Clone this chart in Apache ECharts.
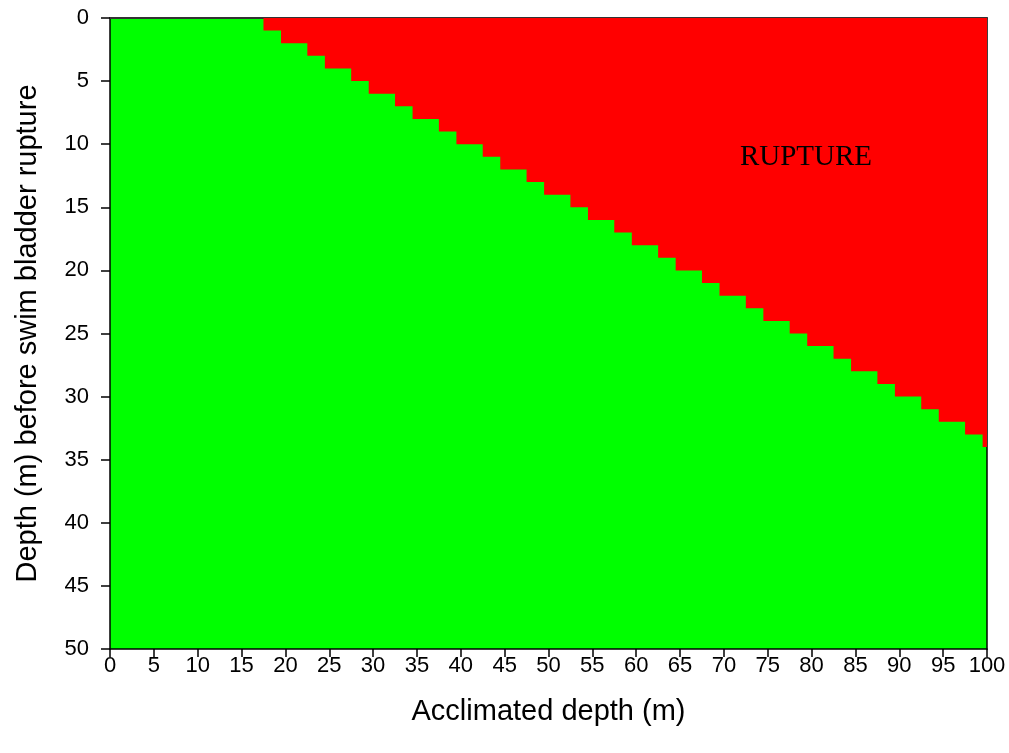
<!DOCTYPE html>
<html>
<head>
<meta charset="utf-8">
<script src="https://cdn.jsdelivr.net/npm/echarts@6/dist/echarts.min.js"></script>
<style>
html,body{margin:0;padding:0;background:#fff;}
#chart{width:1009px;height:753px;}
</style>
</head>
<body>
<div id="chart"></div>
<script>
// Acclimated depth (m) at which each 1 m depth row switches to rupture
var ruptureStartX = [17.5, 19.5, 22.5, 24.5, 27.5, 29.5, 32.5, 34.5, 37.5, 39.5,
                     42.5, 44.5, 47.5, 49.5, 52.5, 54.5, 57.5, 59.5, 62.5, 64.5,
                     67.5, 69.5, 72.5, 74.5, 77.5, 79.5, 82.5, 84.5, 87.5, 89.5,
                     92.5, 94.5, 97.5, 99.5];
// Depth (m) of the lower edge of rupture region beyond each switch point
var ruptureDepth = [1, 2, 3, 4, 5, 6, 7, 8, 9, 10,
                    11, 12, 13, 14, 15, 16, 17, 18, 19, 20,
                    21, 22, 23, 24, 25, 26, 27, 28, 29, 30,
                    31, 32, 33, 34];
var xTicks = [0,5,10,15,20,25,30,35,40,45,50,55,60,65,70,75,80,85,90,95,100];
var yTicks = [0,5,10,15,20,25,30,35,40,45,50];

var boundary = [[0, 0]];
for (var i = 0; i < ruptureStartX.length; i++) {
  boundary.push([ruptureStartX[i], ruptureDepth[i]]);
}
boundary.push([100, ruptureDepth[ruptureDepth.length - 1]]);

var chart = echarts.init(document.getElementById('chart'), null, {renderer: 'canvas'});
var font = 'Liberation Sans, Arial, sans-serif';
var option = {
  animation: false,
  backgroundColor: '#ffffff',
  grid: {
    left: 110, right: 22, top: 18, bottom: 104,
    show: true, backgroundColor: '#00ff00', borderWidth: 0
  },
  xAxis: [{
    type: 'value', min: 0, max: 100, interval: 5,
    name: 'Acclimated depth (m)', nameLocation: 'middle', nameGap: 48,
    nameTextStyle: {fontFamily: font, fontSize: 29, color: '#000'},
    axisLine: {show: true, onZero: false, lineStyle: {color: '#000', width: 1.5}},
    axisTick: {show: true, inside: false, length: 8, lineStyle: {color: '#000', width: 1.5}},
    axisLabel: {fontFamily: font, fontSize: 22, color: '#000', margin: 6,
      formatter: function (v) { return xTicks.indexOf(v) >= 0 ? String(v) : ''; }},
    splitLine: {show: false}
  }, {
    type: 'value', min: 0, max: 100, position: 'top',
    axisLine: {show: true, onZero: false, lineStyle: {color: '#333', width: 2}},
    axisTick: {show: false}, axisLabel: {show: false}, splitLine: {show: false}
  }],
  yAxis: [{
    type: 'value', min: 0, max: 50, interval: 5, inverse: true,
    name: 'Depth (m) before swim bladder rupture', nameLocation: 'middle', nameGap: 68,
    nameTextStyle: {fontFamily: font, fontSize: 29, color: '#000'},
    axisLine: {show: true, onZero: false, lineStyle: {color: '#000', width: 1.5}},
    axisTick: {show: true, inside: false, length: 9, lineStyle: {color: '#000', width: 1.5}},
    axisLabel: {fontFamily: font, fontSize: 22, color: '#000', margin: 21,
      formatter: function (v) { return yTicks.indexOf(v) >= 0 ? String(v) : ''; }},
    splitLine: {show: false}
  }, {
    type: 'value', min: 0, max: 50, inverse: true, position: 'right',
    axisLine: {show: true, onZero: false, lineStyle: {color: '#000', width: 1.5}},
    axisTick: {show: false}, axisLabel: {show: false}, splitLine: {show: false}
  }],
  series: [{
    type: 'line',
    data: boundary,
    step: 'end',
    showSymbol: false,
    symbol: 'none',
    lineStyle: {width: 0},
    areaStyle: {color: '#ff0000', opacity: 1, origin: 'start'},
    z: 1
  }],
  graphic: [{
    type: 'text',
    x: 806, y: 157,
    style: {text: 'RUPTURE', font: '29px "Liberation Serif", "Times New Roman", serif',
      fill: '#000', textAlign: 'center', textVerticalAlign: 'middle'},
    z: 100
  }]
};
chart.setOption(option);
</script>
</body>
</html>
